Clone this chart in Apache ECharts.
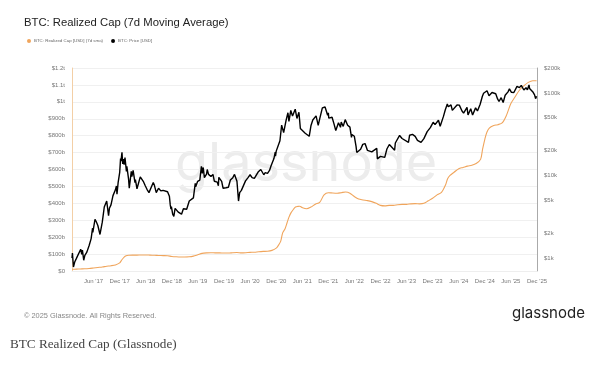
<!DOCTYPE html>
<html>
<head>
<meta charset="utf-8">
<script src="https://cdn.jsdelivr.net/npm/echarts@6/dist/echarts.min.js"></script>
<style>
html,body{margin:0;padding:0;background:#fff;}
#c{width:600px;height:370px;}
</style>
</head>
<body>
<div id="c"></div>
<script>
// ---- Data ----
const priceDates = ['2017-01-01','2017-01-04','2017-01-11','2017-01-20','2017-02-01','2017-02-15','2017-03-03','2017-03-10','2017-03-15','2017-03-24','2017-04-01','2017-04-15','2017-05-01','2017-05-15','2017-05-25','2017-05-27','2017-06-11','2017-06-20','2017-07-01','2017-07-16','2017-08-01','2017-08-15','2017-09-01','2017-09-14','2017-09-20','2017-10-01','2017-10-15','2017-11-01','2017-11-08','2017-11-12','2017-11-20','2017-12-01','2017-12-07','2017-12-10','2017-12-17','2017-12-22','2017-12-26','2018-01-01','2018-01-07','2018-01-17','2018-01-20','2018-02-01','2018-02-06','2018-02-20','2018-02-24','2018-03-05','2018-03-18','2018-03-21','2018-04-01','2018-04-06','2018-04-24','2018-05-05','2018-05-15','2018-05-29','2018-06-10','2018-06-24','2018-07-01','2018-07-24','2018-08-01','2018-08-14','2018-08-30','2018-09-05','2018-09-15','2018-10-01','2018-10-15','2018-11-01','2018-11-14','2018-11-20','2018-11-25','2018-11-28','2018-12-07','2018-12-15','2018-12-24','2019-01-01','2019-01-15','2019-02-07','2019-02-20','2019-03-01','2019-03-15','2019-04-02','2019-04-15','2019-05-01','2019-05-14','2019-05-17','2019-05-31','2019-06-15','2019-06-26','2019-07-02','2019-07-09','2019-07-17','2019-08-01','2019-08-06','2019-08-15','2019-09-01','2019-09-15','2019-09-25','2019-10-15','2019-10-23','2019-10-26','2019-11-15','2019-11-25','2019-12-15','2019-12-18','2020-01-01','2020-01-15','2020-02-01','2020-02-13','2020-03-01','2020-03-12','2020-03-16','2020-03-20','2020-04-01','2020-04-15','2020-04-30','2020-05-10','2020-05-15','2020-06-01','2020-06-15','2020-07-01','2020-07-15','2020-07-27','2020-08-15','2020-09-05','2020-09-15','2020-10-01','2020-10-15','2020-10-26','2020-11-01','2020-11-15','2020-11-24','2020-11-26','2020-12-01','2020-12-15','2020-12-27','2021-01-08','2021-01-22','2021-02-01','2021-02-08','2021-02-21','2021-02-28','2021-03-13','2021-03-25','2021-04-13','2021-04-25','2021-05-09','2021-05-19','2021-06-01','2021-06-22','2021-07-01','2021-07-20','2021-08-01','2021-08-14','2021-09-06','2021-09-21','2021-10-01','2021-10-20','2021-11-08','2021-11-26','2021-12-01','2021-12-04','2021-12-15','2021-12-27','2022-01-10','2022-01-22','2022-02-10','2022-02-24','2022-03-01','2022-03-15','2022-03-29','2022-04-15','2022-05-01','2022-05-12','2022-05-15','2022-06-01','2022-06-13','2022-06-18','2022-07-01','2022-07-15','2022-07-30','2022-08-15','2022-09-01','2022-09-15','2022-10-01','2022-10-15','2022-11-05','2022-11-09','2022-11-21','2022-12-01','2022-12-15','2022-12-31','2023-01-15','2023-02-01','2023-02-15','2023-03-10','2023-03-15','2023-04-14','2023-05-01','2023-05-15','2023-06-15','2023-06-23','2023-07-13','2023-08-01','2023-08-17','2023-09-11','2023-10-01','2023-10-24','2023-11-15','2023-12-05','2023-12-18','2024-01-11','2024-01-23','2024-02-15','2024-02-28','2024-03-13','2024-03-20','2024-04-08','2024-04-17','2024-05-01','2024-05-20','2024-06-05','2024-06-24','2024-07-05','2024-07-29','2024-08-05','2024-08-24','2024-09-06','2024-09-27','2024-10-10','2024-10-29','2024-11-05','2024-11-13','2024-11-22','2024-12-04','2024-12-16','2024-12-30','2025-01-07','2025-01-20','2025-01-31','2025-02-15','2025-02-28','2025-03-10','2025-03-25','2025-04-08','2025-04-22','2025-05-12','2025-05-22','2025-06-05','2025-06-22','2025-07-14','2025-07-31','2025-08-13','2025-08-31','2025-09-15','2025-09-25','2025-10-06','2025-10-10','2025-10-22','2025-11-04','2025-11-14','2025-11-21','2025-11-28'];
const priceValues = [998,1150,780,895,990,1010,1280,1110,1250,940,1080,1180,1420,1720,2300,2050,2950,2750,2480,1930,2720,4150,4900,3250,4000,4400,5700,6700,7450,5950,8200,10900,16000,14900,19100,13800,15800,13500,16500,11200,12900,9100,7000,11200,9700,11500,8200,8900,6900,6600,9600,9800,8500,7500,6800,6200,6400,8200,7600,6200,7000,6700,6500,6600,6500,6350,5600,4400,3900,4200,3400,3200,4000,3850,3600,3400,3950,3830,3900,4900,5100,5350,8000,7300,8500,8800,12900,10600,12500,9400,10400,11800,10300,9700,10300,8500,8300,7500,9500,8500,7000,7100,7150,7200,8800,9400,10300,8500,4900,5000,6200,6600,6600,8600,8700,9300,10200,9400,9200,9200,11000,11800,10200,10800,10600,11500,13100,13800,16000,19200,17100,19700,19400,26300,40700,33000,33500,46400,57500,45200,61200,52300,63500,49000,58200,37000,36700,32500,33500,29800,39900,47000,52600,40500,48100,65900,67500,53500,57200,49400,48900,50700,41800,35000,43500,38300,44400,39300,47400,40600,38500,28900,31300,29800,22500,19000,19300,20800,23800,24300,20100,19700,19300,19100,21300,15900,15800,17000,17400,16550,20900,23700,24300,20200,24700,30500,28000,27200,25100,30700,31400,29700,26600,25100,27900,33900,37900,44000,41300,46600,39500,51900,62500,73100,67900,71600,61300,58200,71400,71100,60300,56700,66800,54000,64100,53900,65800,60300,72700,69400,90500,98900,98800,106100,92300,96900,101000,102400,97600,84400,78600,87500,76300,93500,102800,111700,101600,100900,119800,115800,123300,108200,115300,109000,124700,113200,108500,101500,94500,85100,91000];

const capDates = ['2017-01-01','2017-02-01','2017-03-01','2017-04-01','2017-05-01','2017-06-01','2017-07-01','2017-08-01','2017-09-01','2017-10-01','2017-11-01','2017-12-01','2017-12-15','2018-01-01','2018-01-15','2018-02-01','2018-03-01','2018-04-01','2018-05-01','2018-06-01','2018-07-01','2018-08-01','2018-09-01','2018-10-01','2018-11-01','2018-12-01','2019-01-01','2019-02-01','2019-03-01','2019-04-01','2019-05-01','2019-06-01','2019-07-01','2019-08-01','2019-09-01','2019-10-01','2019-11-01','2019-12-01','2020-01-01','2020-02-01','2020-03-01','2020-04-01','2020-05-01','2020-06-01','2020-07-01','2020-08-01','2020-09-01','2020-10-01','2020-11-01','2020-12-01','2020-12-15','2021-01-01','2021-01-15','2021-02-01','2021-02-15','2021-03-01','2021-03-15','2021-04-01','2021-04-15','2021-05-01','2021-05-15','2021-06-01','2021-07-01','2021-08-01','2021-09-01','2021-10-01','2021-11-01','2021-12-01','2022-01-01','2022-02-01','2022-03-01','2022-04-01','2022-05-01','2022-06-01','2022-07-01','2022-08-01','2022-09-01','2022-10-01','2022-11-01','2022-12-01','2023-01-01','2023-02-01','2023-03-01','2023-04-01','2023-05-01','2023-06-01','2023-07-01','2023-08-01','2023-09-01','2023-10-01','2023-11-01','2023-12-01','2024-01-01','2024-02-01','2024-03-01','2024-03-15','2024-04-01','2024-05-01','2024-06-01','2024-07-01','2024-08-01','2024-09-01','2024-10-01','2024-11-01','2024-11-15','2024-12-01','2024-12-15','2025-01-01','2025-02-01','2025-03-01','2025-04-01','2025-05-01','2025-06-01','2025-07-01','2025-08-01','2025-09-01','2025-10-01','2025-11-01','2025-11-28'];
const capValues = [10,11,12,13,15,18,21,24,28,31,36,48,65,82,90,93,94,94,95,95,94,93,92,91,90,86,84,83,83,84,88,96,104,107,108,107,107,106,106,108,109,107,108,110,111,114,116,117,122,135,150,175,225,250,285,320,345,365,378,382,383,375,368,378,395,405,450,463,461,460,463,467,460,440,425,420,416,410,400,388,385,388,388,392,394,394,397,398,397,400,415,430,450,465,510,545,565,585,605,612,620,625,635,660,720,780,820,845,860,865,875,920,990,1030,1070,1095,1115,1125,1125];

const xTickDates = ['2017-06-01','2017-12-01','2018-06-01','2018-12-01','2019-06-01','2019-12-01','2020-06-01','2020-12-01','2021-06-01','2021-12-01','2022-06-01','2022-12-01','2023-06-01','2023-12-01','2024-06-01','2024-12-01','2025-06-01','2025-12-01'];
const xTickLabels = ["Jun '17","Dec '17","Jun '18","Dec '18","Jun '19","Dec '19","Jun '20","Dec '20","Jun '21","Dec '21","Jun '22","Dec '22","Jun '23","Dec '23","Jun '24","Dec '24","Jun '25","Dec '25"];
const leftTickLabels = ['$0','$100b','$200b','$300b','$400b','$500b','$600b','$700b','$800b','$900b','$1t','$1.1t','$1.2t'];
const rightTickValues = [1000,2000,5000,10000,20000,50000,100000,200000];
const rightTickLabels = ['$1k','$2k','$5k','$10k','$20k','$50k','$100k','$200k'];

// ---- Chart ----
const ts = d => new Date(d + 'T00:00:00Z').getTime();
const xTickTs = xTickDates.map(ts);
const priceData = priceDates.map((d, i) => [ts(d), priceValues[i]]);
const capData = capDates.map((d, i) => [ts(d), capValues[i]]);
const FONT = 'Liberation Sans, Arial, sans-serif';

const chart = echarts.init(document.getElementById('c'), null, {renderer: 'canvas'});
chart.setOption({
  animation: false,
  backgroundColor: '#fff',
  title: {
    text: 'BTC: Realized Cap (7d Moving Average)',
    left: 19, top: 12,
    textStyle: {fontSize: 11.3, fontWeight: 'normal', color: '#222', fontFamily: FONT}
  },
  legend: {
    left: 22, top: 34,
    icon: 'circle', itemWidth: 4, itemHeight: 4, itemGap: 8,
    textStyle: {fontSize: 4.4, color: '#666', fontFamily: FONT, padding: [0,0,0,-2]},
    data: ['BTC: Realized Cap [USD] (7d sma)', 'BTC: Price [USD]']
  },
  grid: {left: 72, right: 63, top: 68, bottom: 99, containLabel: false},
  xAxis: {
    type: 'value',
    min: ts('2017-01-01'), max: ts('2025-12-01'),
    axisLine: {show: true, lineStyle: {color: '#eee'}},
    axisTick: {show: false},
    splitLine: {show: false},
    axisLabel: {
      customValues: xTickTs,
      fontSize: 6, color: '#777', fontFamily: FONT, margin: 7,
      formatter: v => { const i = xTickTs.indexOf(v); return i >= 0 ? xTickLabels[i] : ''; }
    }
  },
  yAxis: [{
    type: 'value', min: 0, max: 1200, interval: 100, position: 'left',
    axisLine: {show: true, lineStyle: {color: '#f3cfa6', width: 1}},
    axisTick: {show: false},
    splitLine: {show: true, lineStyle: {color: '#f0f0f0', width: 1}},
    axisLabel: {
      fontSize: 6, color: '#777', fontFamily: FONT, margin: 7,
      formatter: v => leftTickLabels[Math.round(v / 100)]
    }
  }, {
    type: 'log', logBase: 10, min: 697, max: 200000, position: 'right',
    axisLine: {show: true, lineStyle: {color: '#aaa', width: 1}},
    axisTick: {show: false},
    splitLine: {show: false},
    axisLabel: {
      customValues: rightTickValues,
      fontSize: 6, color: '#777', fontFamily: FONT, margin: 7,
      formatter: v => { const i = rightTickValues.findIndex(t => Math.abs(t - v) / t < 1e-6); return i >= 0 ? rightTickLabels[i] : ''; }
    }
  }],
  graphic: [
    {type: 'text', left: 175, top: 138, z: -10, silent: true,
     style: {text: 'glassnode', fontSize: 54, fontFamily: 'Inter, Liberation Sans, sans-serif', fill: '#ececec'}},
    {type: 'text', left: 24, top: 312,
     style: {text: '\u00A9 2025 Glassnode. All Rights Reserved.', fontSize: 7.4, fontFamily: FONT, fill: '#888'}},
    {type: 'text', left: 512, top: 306,
     style: {text: 'glassnode', fontSize: 15, fontFamily: 'Inter, Liberation Sans, sans-serif', fill: '#222'}},
    {type: 'text', left: 10, top: 338,
     style: {text: 'BTC Realized Cap (Glassnode)', fontSize: 13.2, fontFamily: 'Liberation Serif, DejaVu Serif, serif', fill: '#444'}}
  ],
  series: [{
    name: 'BTC: Realized Cap [USD] (7d sma)', type: 'line', yAxisIndex: 0,
    data: capData, showSymbol: false, smooth: 0.3, z: 3,
    lineStyle: {color: '#f0a55c', width: 1.1}, itemStyle: {color: '#f0a55c'}
  }, {
    name: 'BTC: Price [USD]', type: 'line', yAxisIndex: 1,
    data: priceData, showSymbol: false, z: 4,
    lineStyle: {color: '#000', width: 1.4}, itemStyle: {color: '#000'}
  }]
});
</script>
</body>
</html>
